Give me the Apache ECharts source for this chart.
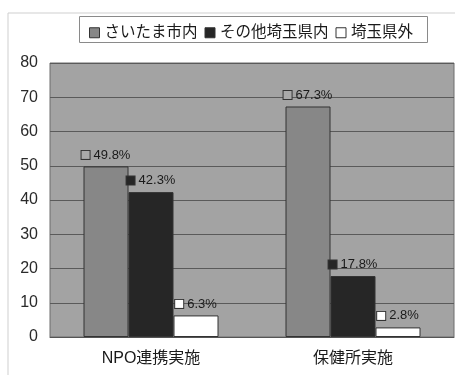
<!DOCTYPE html>
<html>
<head>
<meta charset="utf-8">
<script src="https://cdn.jsdelivr.net/npm/echarts@6/dist/echarts.min.js"></script>
<style>
  html, body { margin: 0; padding: 0; background: #fff; }
  #chart { width: 455px; height: 375px; }
</style>
</head>
<body>
<div id="chart"></div>
<script>
// Categories and values (%)
const categories = ['NPO連携実施', '保健所実施'];
const seriesNames = ['さいたま市内', 'その他埼玉県内', '埼玉県外'];
const saitamaCity = [49.8, 67.3];
const otherSaitama = [42.3, 17.8];
const outsideSaitama = [6.3, 2.8];
const yTicks = { min: 0, max: 80, interval: 10 };

const FONT = '"Liberation Sans", "Noto Sans CJK JP", sans-serif';
const fills = ['#878787', '#262626', '#ffffff'];
const keyFills = ['#a9a9a9', '#262626', '#ffffff'];

function makeSeries(name, data, idx) {
  return {
    name: name,
    type: 'bar',
    data: data,
    barWidth: 45,
    barGap: '0%',
    itemStyle: { color: fills[idx], borderColor: '#333', borderWidth: 1 },
    label: {
      show: true,
      position: 'top',
      distance: 5,
      formatter: p => '{k|}{v|' + p.value.toFixed(1) + '%}',
      rich: {
        k: {
          width: 8, height: 8,
          backgroundColor: keyFills[idx],
          borderColor: '#333', borderWidth: 1
        },
        v: { fontSize: 13, color: '#1a1a1a', fontFamily: FONT, padding: [0, 0, 0, 4] }
      }
    }
  };
}

const chart = echarts.init(document.getElementById('chart'));
chart.setOption({
  animation: false,
  backgroundColor: '#fff',
  textStyle: { fontFamily: FONT },
  graphic: [
    { type: 'polyline', silent: true,
      shape: { points: [[8, 375], [8, 13], [455, 13]] },
      style: { stroke: '#cfcfcf', lineWidth: 1, fill: null } },
    { type: 'rect', silent: true,
      shape: { x: 79.5, y: 16.5, width: 348, height: 26 },
      style: { stroke: '#8a8a8a', lineWidth: 1, fill: '#fff' } }
  ],
  legend: {
    data: seriesNames,
    top: 20,
    left: 84,
    itemWidth: 10,
    itemHeight: 10,
    itemGap: 7,
    textStyle: { fontSize: 15.5, color: '#1a1a1a', fontFamily: FONT },
    itemStyle: { borderColor: '#333', borderWidth: 1 },
    icon: 'rect'
  },
  grid: {
    left: 50, right: 1, top: 63, bottom: 38,
    show: true,
    backgroundColor: '#a3a3a3',
    borderColor: '#6d6d6d',
    borderWidth: 1
  },
  xAxis: {
    type: 'category',
    data: categories,
    axisLine: { show: true, lineStyle: { color: '#555' } },
    axisTick: { show: false },
    axisLabel: { fontSize: 16, color: '#1a1a1a', margin: 14, fontFamily: FONT }
  },
  yAxis: {
    type: 'value',
    min: yTicks.min, max: yTicks.max, interval: yTicks.interval,
    axisLine: { show: false },
    axisTick: { show: false },
    axisLabel: { fontSize: 16, color: '#2a2a2a', margin: 12, fontFamily: FONT },
    splitLine: { lineStyle: { color: '#5a5a5a', width: 1 } }
  },
  series: [
    makeSeries(seriesNames[0], saitamaCity, 0),
    makeSeries(seriesNames[1], otherSaitama, 1),
    makeSeries(seriesNames[2], outsideSaitama, 2)
  ]
});
</script>
</body>
</html>
